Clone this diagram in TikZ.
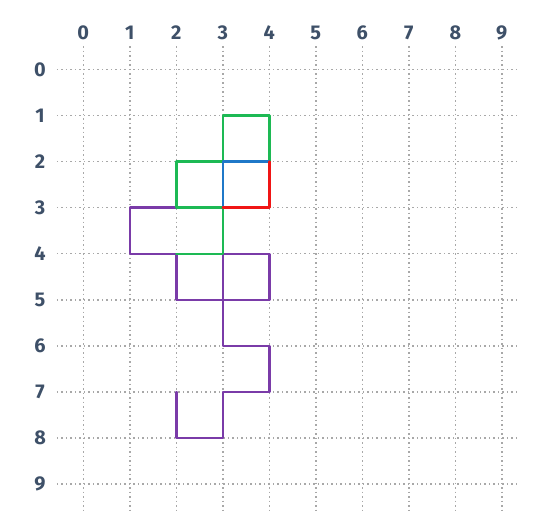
\documentclass[tikz,border=0pt]{standalone}
\usepackage{fontspec}
\setmainfont{Fira Sans}
\definecolor{lab}{HTML}{3E5068}
\definecolor{gridc}{HTML}{A8A8A8}
\definecolor{pgreen}{HTML}{1DB954}
\definecolor{pblue}{HTML}{1F78C8}
\definecolor{pred}{HTML}{F01515}
\definecolor{ppurple}{HTML}{7A3BA8}
\tikzset{
  gridline/.style={gridc, line width=1.5bp, dash pattern=on 1.5bp off 3bp},
  seg/.style={line width=2.4bp, line cap=round, line join=round},
  lbl/.style={text=lab, font=\fontsize{20}{20}\selectfont\bfseries, inner sep=0pt}
}
\begin{document}
\begin{tikzpicture}[x=46.5bp, y=-46.1bp]
\useasboundingbox (-83.3bp,69.3bp) rectangle (460.7bp,-450.7bp);
\foreach \i in {0,...,9} {
  \draw[gridline] (-0.566,\i) -- (9.39,\i);
  \draw[gridline] (\i,-0.505) -- (\i,9.56);
  \node[lbl] (t\i) at (\i,-0.79) {\i};
  \node[lbl] (l\i) at (-0.93,\i) {\i};
}
% purple
\draw[seg, ppurple] (2,3) -- (1,3) -- (1,4) -- (2,4) -- (2,5) -- (4,5) -- (4,4) -- (3,4) -- (3,6) -- (4,6) -- (4,7) -- (3,7) -- (3,8) -- (2,8) -- (2,7);
% green
\draw[seg, pgreen] (2,4) -- (3,4) -- (3,3) -- (2,3) -- (2,2) -- (3,2) -- (3,1) -- (4,1) -- (4,2);
% blue
\draw[seg, pblue] (3,3) -- (3,2) -- (4,2);
% red
\draw[seg, pred] (4,2) -- (4,3) -- (3,3);
\end{tikzpicture}
\end{document}
